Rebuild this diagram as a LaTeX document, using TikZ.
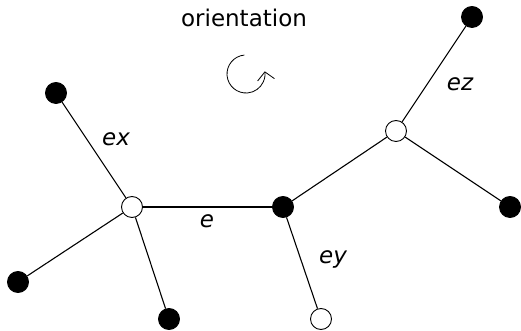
\documentclass[tikz,border=0pt]{standalone}
\usepackage{fontspec}
\setmainfont{DejaVu Sans}
\usepackage{tikz}
\usetikzlibrary{positioning,arrows.meta}

\begin{document}
\begin{tikzpicture}[
x=1pt,y=1pt,
>={Straight Barb[length=8pt,width=17pt]},
font=\fontsize{23}{28}\selectfont,
vertex/.style={
draw,
circle,
inner sep=0pt,
minimum size=21pt,
line width=0.9pt
},
blackv/.style={
vertex,
fill=black
},
whitev/.style={
vertex,
fill=white
},
edge/.style={
line width=1.1pt
},
elabel/.style={
font=\fontsize{23}{28}\selectfont\itshape
}
]

\useasboundingbox (0,0) rectangle (521,331);

%%%%%%%%%%%%%%%%%%%%%%%%%%%%%%%%%%%%
% Vertices
%%%%%%%%%%%%%%%%%%%%%%%%%%%%%%%%%%%%

\node[whitev] (vx) at (132,124) {};

\node[blackv] (vy) at (283,124) {};

\node[whitev] (vz) at (396,200) {};

\node[blackv] (xtop) at (56,238) {};

\node[blackv] (xleft) at (18,49) {};

\node[blackv] (xbot) at (169,12) {};

\node[whitev] (ybot) at (321,12) {};

\node[blackv] (ztop) at (472,314) {};

\node[blackv] (zright) at (510,124) {};

%%%%%%%%%%%%%%%%%%%%%%%%%%%%%%%%%%%%
% Edges
%%%%%%%%%%%%%%%%%%%%%%%%%%%%%%%%%%%%

\draw[edge] (vx)--(xtop);

\draw[edge] (vx)--(xleft);

\draw[edge] (vx)--(xbot);

\draw[edge] (vx)--(vy);

\draw[edge] (vy)--(ybot);

\draw[edge] (vy)--(vz);

\draw[edge] (vz)--(ztop);

\draw[edge] (vz)--(zright);

%%%%%%%%%%%%%%%%%%%%%%%%%%%%%%%%%%%%
% Labels
%%%%%%%%%%%%%%%%%%%%%%%%%%%%%%%%%%%%

\node[elabel] (lex) at (116,192) {ex};

\node[elabel] (le) at (207,110) {e};

\node[elabel] (ley) at (333,72) {ey};

\node[elabel] (lez) at (460,247) {ez};

\node (orient) at (244,313) {orientation};

%%%%%%%%%%%%%%%%%%%%%%%%%%%%%%%%%%%%
% Orientation symbol
%%%%%%%%%%%%%%%%%%%%%%%%%%%%%%%%%%%%

\coordinate (rot) at (246,257);

\draw[->,line width=0.8pt] (rot) ++(95:19) arc[start angle=95,end angle=368,radius=19];

\end{tikzpicture}
\end{document}
